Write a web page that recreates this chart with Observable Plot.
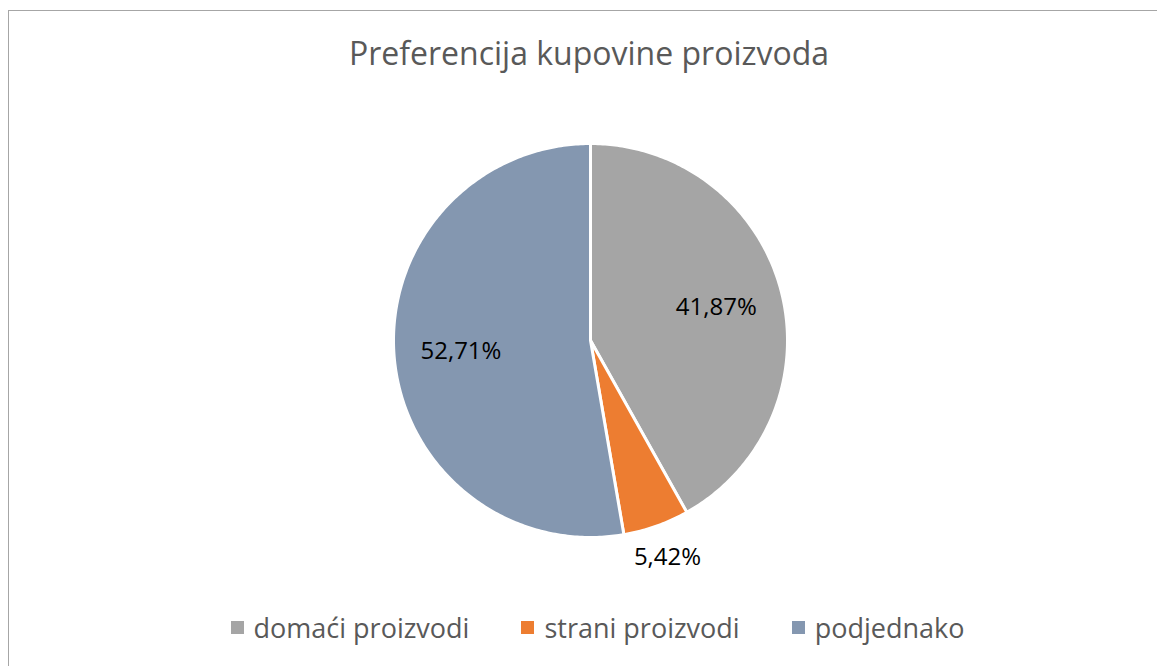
<!DOCTYPE html>
<html><head><meta charset="utf-8">
<script src="https://cdn.jsdelivr.net/npm/d3@7"></script>
<script src="https://cdn.jsdelivr.net/npm/@observablehq/plot@0.6"></script>
<style>
body{margin:0;background:#fff;font-family:"Open Sans",sans-serif;}
#wrap{position:relative;width:1157px;height:666px;overflow:hidden;}
#border{position:absolute;left:8px;top:10px;width:1160px;height:670px;border:1.5px solid #a6a6a6;box-sizing:border-box;}
#title{position:absolute;left:0;width:1178px;top:31px;text-align:center;font-size:32px;color:#595959;}
#legend{position:absolute;left:0;width:1195px;top:609px;display:flex;justify-content:center;gap:52px;font-size:27px;color:#595959;}
#legend span.item{display:flex;align-items:center;}
#legend span.sw{display:inline-block;width:13px;height:13px;margin-right:10px;}
#chart{position:absolute;left:0;top:0;}
</style></head>
<body><div id="wrap"><div id="border"></div><div id="title"></div><div id="chart"></div><div id="legend"></div></div>
<script>
const title = "Preferencija kupovine proizvoda";
const categories = ["domaći proizvodi", "strani proizvodi", "podjednako"];
const values = [41.87, 5.42, 52.71];
const labels = ["41,87%", "5,42%", "52,71%"];
const colors = ["#A5A5A5", "#ED7D31", "#8497B0"];

document.getElementById("title").textContent = title;

const data = categories.map((c, i) => ({category: c, value: values[i], label: labels[i]}));
const arcs = d3.pie().sort(null).value(d => d.value)(data);

const polys = [];
arcs.forEach(a => {
  polys.push({category: a.data.category, x: 0, y: 0});
  const n = Math.max(4, Math.ceil((a.endAngle - a.startAngle) * 80));
  for (let k = 0; k <= n; k++) {
    const t = a.startAngle + (a.endAngle - a.startAngle) * k / n;
    polys.push({category: a.data.category, x: Math.sin(t), y: Math.cos(t)});
  }
  polys.push({category: a.data.category, x: 0, y: 0});
});

const labelPts = arcs.map(a => {
  const m = (a.startAngle + a.endAngle) / 2;
  const small = (a.endAngle - a.startAngle) < 0.5;
  const f = small ? 1.17 : 0.66;
  return {label: a.data.label, x: f * Math.sin(m), y: f * Math.cos(m)};
});

const cx = 590, cy = 340, r = 197;
const chart = Plot.plot({
  width: 1157, height: 666,
  margin: 0,
  x: {domain: [-1, 1], range: [cx - r, cx + r], axis: null},
  y: {domain: [-1, 1], range: [cy + r, cy - r], axis: null},
  color: {domain: categories, range: colors},
  style: {background: "transparent", fontFamily: "Open Sans, sans-serif"},
  marks: [
    Plot.line(polys, {x: "x", y: "y", z: "category", fill: "category", stroke: "white", strokeWidth: 3, strokeLinejoin: "round", curve: "linear"}),
    Plot.text(labelPts, {x: "x", y: "y", text: "label", fontSize: 24, fill: "#000"})
  ]
});
document.getElementById("chart").appendChild(chart);

const leg = document.getElementById("legend");
categories.forEach((c, i) => {
  const it = document.createElement("span"); it.className = "item";
  const sw = document.createElement("span"); sw.className = "sw"; sw.style.background = colors[i];
  it.appendChild(sw); it.appendChild(document.createTextNode(c));
  leg.appendChild(it);
});
</script></body></html>
